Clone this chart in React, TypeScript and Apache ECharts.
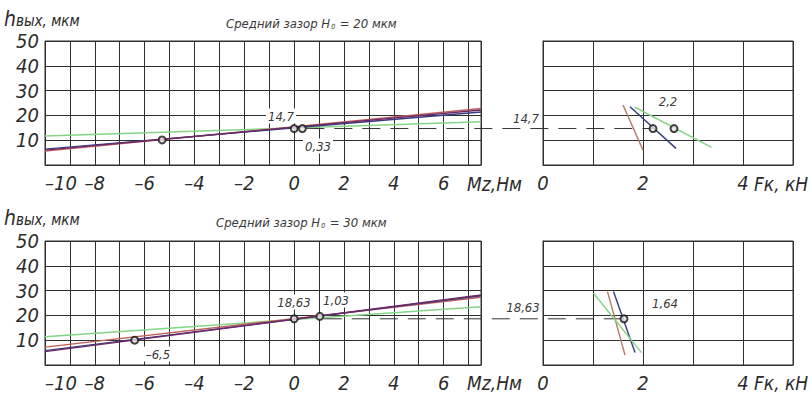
import React, { useEffect, useRef } from "react";
import * as echarts from "echarts";

// ---------- data ----------
const mzTicks = [-10, -8, -6, -4, -2, 0, 2, 4, 6];
const fkTicks = [0, 2, 4];
const hTicks = [10, 20, 30, 40, 50];

// H0 = 20 мкм, h(Mz)
const topRedMz = [[-10, 5.6], [7.5, 22.8]];
const topPurpleMz = [[-10, 6.0], [7.5, 22.2]];
const topNavyMz = [[-10, 6.4], [7.5, 21.4]];
const topGreenMz = [[-10, 11.7], [7.5, 17.4]];
const topDotsMz = [[-5.3, 10.1], [0, 14.7], [0.33, 14.7]];
// H0 = 20 мкм, h(Fk)
const topBrownFk = [[1.6, 24.2], [2.0, 6.0]];
const topNavyFk = [[1.74, 23.5], [2.66, 6.7]];
const topGreenFk = [[1.84, 23.3], [3.37, 7.1]];
const topDotsFk = [[2.2, 14.7], [2.62, 14.7]];
const topDash = { h: 14.7, mzFrom: 0.33, fkTo: 2.2 };

// H0 = 30 мкм, h(Mz)
const botRedMz = [[-10, 7.2], [7.5, 27.3]];
const botPurpleMz = [[-10, 5.4], [7.5, 28.2]];
const botNavyMz = [[-10, 5.8], [7.5, 27.9]];
const botGreenMz = [[-10, 11.4], [7.5, 23.5]];
const botDotsMz = [[-6.4, 10.0], [0, 18.63], [1.03, 19.6]];
// H0 = 30 мкм, h(Fk)
const botBrownFk = [[1.29, 29.6], [1.64, 4.0]];
const botNavyFk = [[1.41, 29.6], [1.84, 5.0]];
const botGreenFk = [[1.01, 28.9], [1.97, 5.0]];
const botDotsFk = [[1.62, 18.63]];
const botDash = { h: 18.63, mzFrom: 1.03, fkTo: 1.72 };

const FONT = "'DejaVu Sans Condensed', 'DejaVu Sans', sans-serif";
const TXT = "#2b2b2b";
const GRIDC = "#303030";

const C_RED = "#c0605a";
const C_PURPLE = "#6e2a68";
const C_NAVY = "#343c7e";
const C_GREEN = "#86d486";
const C_BROWN = "#b47a64";

export default function App() {
  const ref = useRef<HTMLDivElement>(null);
  useEffect(() => {
    if (!ref.current) return;
    const chart = echarts.init(ref.current, null, { renderer: "svg" });

    const grids = [
      { left: 45, top: 41, width: 436, height: 124 },
      { left: 543, top: 41, width: 250, height: 124 },
      { left: 45, top: 241, width: 436, height: 124 },
      { left: 543, top: 241, width: 250, height: 124 },
    ].map((g) => ({
      ...g,
      show: true,
      borderColor: GRIDC,
      borderWidth: 1,
      backgroundColor: "transparent",
    }));

    const lbl = {
      fontSize: 20,
      fontStyle: "italic",
      fontFamily: FONT,
      color: TXT,
    };

    const mkX = (gi: number, isMz: boolean) => ({
      type: "value",
      gridIndex: gi,
      min: isMz ? -10 : 0,
      max: isMz ? 7.5 : 5,
      interval: 1,
      axisLine: { show: true, lineStyle: { color: GRIDC, width: 1 } },
      axisTick: { show: false },
      splitLine: { show: true, lineStyle: { color: GRIDC, width: 1 } },
      axisLabel: {
        ...lbl,
        margin: 8,
        showMaxLabel: false,
        alignMinLabel: isMz ? "left" : "center",
        formatter: (v: number) => {
          const list = isMz ? mzTicks : fkTicks;
          if (!list.includes(v)) return "";
          return v < 0 ? "\u2013" + Math.abs(v) : String(v);
        },
      },
    });
    const mkY = (gi: number, showLabels: boolean) => ({
      type: "value",
      gridIndex: gi,
      min: 0,
      max: 50,
      interval: 10,
      axisLine: { show: true, lineStyle: { color: GRIDC, width: 1 } },
      axisTick: { show: false },
      splitLine: { show: true, lineStyle: { color: GRIDC, width: 1 } },
      axisLabel: {
        ...lbl,
        show: showLabels,
        margin: 6,
        formatter: (v: number) => (hTicks.includes(v) ? String(v) : ""),
      },
    });

    const line = (gi: number, data: number[][], color: string, width = 1.4) => ({
      type: "line",
      xAxisIndex: gi,
      yAxisIndex: gi,
      data,
      symbol: "none",
      silent: true,
      lineStyle: { color, width },
      z: 2,
    });
    const dots = (gi: number, data: number[][]) => ({
      type: "scatter",
      xAxisIndex: gi,
      yAxisIndex: gi,
      data,
      symbol: "circle",
      symbolSize: 7,
      itemStyle: { color: "#e8e8e8", borderColor: "#151515", borderWidth: 2 },
      z: 5,
    });

    const option: any = {
      animation: false,
      backgroundColor: "#ffffff",
      grid: grids,
      xAxis: [mkX(0, true), mkX(1, false), mkX(2, true), mkX(3, false)],
      yAxis: [mkY(0, true), mkY(1, false), mkY(2, true), mkY(3, false)],
      series: [
        line(0, topGreenMz, C_GREEN, 1.5),
        line(0, topRedMz, C_RED),
        line(0, topNavyMz, C_NAVY),
        line(0, topPurpleMz, C_PURPLE),
        dots(0, topDotsMz),
        line(1, topBrownFk, C_BROWN),
        line(1, topNavyFk, C_NAVY),
        line(1, topGreenFk, C_GREEN, 1.5),
        dots(1, topDotsFk),
        line(2, botGreenMz, C_GREEN, 1.5),
        line(2, botRedMz, C_RED),
        line(2, botNavyMz, C_NAVY),
        line(2, botPurpleMz, C_PURPLE),
        dots(2, botDotsMz),
        line(3, botBrownFk, C_BROWN),
        line(3, botNavyFk, C_NAVY),
        line(3, botGreenFk, C_GREEN, 1.5),
        dots(3, botDotsFk),
      ],
    };
    chart.setOption(option);

    const px = (gi: number, p: number[]) =>
      chart.convertToPixel({ xAxisIndex: gi, yAxisIndex: gi }, p) as number[];

    const dashLine = (giL: number, giR: number, d: { h: number; mzFrom: number; fkTo: number }) => {
      const a = px(giL, [d.mzFrom, d.h]);
      const b = px(giR, [d.fkTo, d.h]);
      return {
        type: "line",
        z: 1,
        silent: true,
        shape: { x1: a[0] + 4, y1: a[1], x2: b[0], y2: b[1] },
        style: { stroke: "#333", lineWidth: 1, lineDash: [18, 10] },
      };
    };

    const note = (x: number, y: number, text: string, bg = true) => ({
      type: "text",
      z: 100,
      x,
      y,
      style: {
        text,
        fontSize: 13,
        fontStyle: "italic",
        fontFamily: FONT,
        fill: "#3a3a3a",
        align: "center",
        verticalAlign: "middle",
        backgroundColor: bg ? "#ffffff" : undefined,
        padding: [1, 2, 1, 2],
      },
    });

    const yName = (y: number) => ({
      type: "text",
      z: 100,
      x: 4,
      y,
      style: {
        text: "{h|h}{r|вых, мкм}",
        fontFamily: FONT,
        fontStyle: "italic",
        verticalAlign: "middle",
        rich: {
          h: { fontSize: 21, fontStyle: "italic", fontFamily: FONT, fill: TXT },
          r: { fontSize: 15, fontStyle: "italic", fontFamily: FONT, fill: TXT, padding: [3, 0, 0, 0] },
        },
      },
    });

    const title = (x: number, y: number, val: string) => ({
      type: "text",
      z: 100,
      x,
      y,
      style: {
        text: `{t|Средний зазор H}{s|0}{t| = ${val} мкм}`,
        verticalAlign: "middle",
        rich: {
          t: { fontSize: 13, fontStyle: "italic", fontFamily: FONT, fill: "#3a3a3a" },
          s: { fontSize: 7, fontStyle: "italic", fontFamily: FONT, fill: "#3a3a3a", padding: [7, 1, 0, 1] },
        },
      },
    });

    const axisName = (x: number, y: number, text: string) => ({
      type: "text",
      z: 100,
      x,
      y,
      style: {
        text,
        fontSize: 19,
        fontStyle: "italic",
        fontFamily: FONT,
        fill: TXT,
        verticalAlign: "middle",
      },
    });

    chart.setOption({
      graphic: [
        dashLine(0, 1, topDash),
        dashLine(2, 3, botDash),
        yName(19),
        yName(218),
        title(226, 23, "20"),
        title(216, 222, "30"),
        axisName(467, 184, "Mz,Нм"),
        axisName(754, 184, "Fк, кН"),
        axisName(467, 383, "Mz,Нм"),
        axisName(754, 383, "Fк, кН"),
        note(281, 116, "14,7"),
        note(318, 146, "0,33"),
        note(526, 118, "14,7", false),
        note(668, 101, "2,2", false),
        note(294, 302, "18,63"),
        note(336, 300, "1,03"),
        note(158, 354, "\u20136,5"),
        note(523, 307, "18,63", false),
        note(665, 303, "1,64", false),
      ],
    });

    return () => chart.dispose();
  }, []);

  return (
    <div
      ref={ref}
      style={{ position: "fixed", left: 0, top: 0, width: 811, height: 395, background: "#fff" }}
    />
  );
}
